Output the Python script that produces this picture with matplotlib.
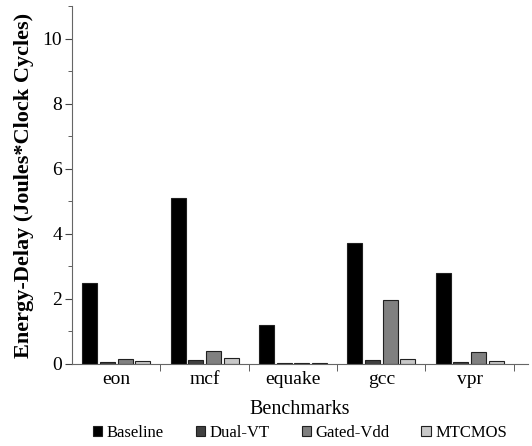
import matplotlib
matplotlib.use("Agg")
import matplotlib.pyplot as plt
import numpy as np
from matplotlib.ticker import MultipleLocator

plt.rcParams['font.family'] = ['Liberation Serif', 'DejaVu Serif']

categories = ["eon", "mcf", "equake", "gcc", "vpr"]
series = ["Baseline", "Dual-VT", "Gated-Vdd", "MTCMOS"]
baseline = [2.48, 5.10, 1.20, 3.72, 2.81]
dualvt = [0.06, 0.12, 0.02, 0.12, 0.06]
gatedvdd = [0.15, 0.40, 0.03, 1.96, 0.36]
mtcmos = [0.09, 0.17, 0.03, 0.15, 0.09]
values = [baseline, dualvt, gatedvdd, mtcmos]
colors = ["#000000", "#404040", "#808080", "#c8c8c8"]

fig = plt.figure(figsize=(5.32, 4.46), dpi=100)
ax = fig.add_axes([72/532, (446-364)/446, (528-72)/532, (364-6)/446])

x = np.arange(len(categories))
w = 0.2
for i, (name, vals, c) in enumerate(zip(series, values, colors)):
    ax.bar(x + (i - 1.5) * w, vals, width=0.17, color=c, edgecolor="#202020",
           linewidth=0.8, label=name)

ax.set_xlim(-0.5, 4.66)
ax.set_ylim(0, 11)
ax.set_xticks(x)
ax.set_xticklabels(categories, fontsize=14)
ax.set_xticks(np.arange(0.5, 5, 1), minor=True)
ax.tick_params(axis='x', which='major', length=0, pad=5)
ax.tick_params(axis='x', which='minor', length=5, color="#444444", direction='out')
ax.yaxis.set_major_locator(MultipleLocator(2))
ax.yaxis.set_minor_locator(MultipleLocator(1))
ax.tick_params(axis='y', which='major', length=5, labelsize=14, color="#444444", pad=2)
ax.tick_params(axis='y', which='minor', length=3, color="#444444")
for s in ["top", "right"]:
    ax.spines[s].set_visible(False)
for s in ["left", "bottom"]:
    ax.spines[s].set_color("#666666")
ax.set_ylabel("Energy-Delay (Joules*Clock Cycles)", fontsize=16, fontweight='bold', labelpad=6)
ax.set_xlabel("Benchmarks", fontsize=14.5, labelpad=9)

ax.legend(loc='upper center', bbox_to_anchor=(0.5, -0.152), ncol=4, frameon=False,
          fontsize=12, handlelength=0.55, handleheight=0.55, handletextpad=0.3,
          columnspacing=1.9, borderaxespad=0)

fig.savefig("out.png", dpi=100)
